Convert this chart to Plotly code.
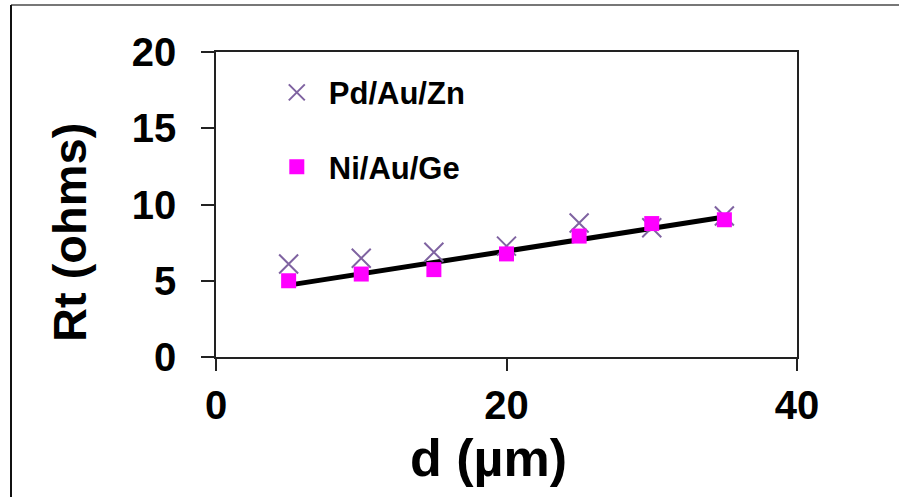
import numpy as np
import plotly.graph_objects as go

d_um = [5, 10, 15, 20, 25, 30, 35]
rt_pd_au_zn = [6.1, 6.48, 6.87, 7.27, 8.79, 8.48, 9.25]
rt_ni_au_ge = [5.0, 5.44, 5.73, 6.76, 7.93, 8.75, 9.0]
x_ticks = [0, 20, 40]
y_ticks = [0, 5, 10, 15, 20]

# linear trendline of Ni/Au/Ge
slope, icpt = np.polyfit(d_um, rt_ni_au_ge, 1)
fit_x = [min(d_um), max(d_um)]
fit_y = [slope * v + icpt for v in fit_x]

FONT = "Liberation Sans, Arial, sans-serif"

fig = go.Figure()
fig.add_trace(go.Scatter(
    x=fit_x, y=fit_y, mode="lines", line=dict(color="black", width=5),
    showlegend=False, hoverinfo="skip"))
fig.add_trace(go.Scatter(
    x=d_um, y=rt_pd_au_zn, mode="markers", name="<b>Pd/Au/Zn</b>",
    legendgroup="a",
    marker=dict(symbol="x-thin", size=19, line=dict(color="#7F63A1", width=2),
                color="#7F63A1")))
fig.add_trace(go.Scatter(
    x=d_um, y=rt_ni_au_ge, mode="markers", name="<b>Ni/Au/Ge</b>",
    legendgroup="b",
    marker=dict(symbol="square", size=15, color="#FF00FF",
                line=dict(width=0))))

axis_common = dict(
    showgrid=False, zeroline=False, showline=True, linecolor="#222",
    linewidth=1.5, mirror=True, ticks="outside", tickcolor="#222",
    tickwidth=1.5,
    tickfont=dict(family=FONT, size=40, color="black", weight="bold"),
)
fig.update_xaxes(range=[0, 40], tickvals=x_ticks, ticklen=12,
                 ticklabelstandoff=0, **axis_common)
fig.update_yaxes(range=[0, 20], tickvals=y_ticks, ticklen=13,
                 ticklabelstandoff=17, **axis_common)

fig.update_layout(
    width=899, height=497,
    margin=dict(l=216, r=102, t=52, b=140),
    paper_bgcolor="white", plot_bgcolor="white",
    font=dict(family=FONT, color="black"),
    legend=dict(x=0.084, y=0.955, xanchor="left", yanchor="top",
                font=dict(family=FONT, size=31, color="black"),
                bgcolor="rgba(0,0,0,0)", tracegroupgap=31, itemwidth=54),
    annotations=[
        dict(text="<b>d (µm)</b>", xref="paper", yref="paper",
             x=(488 - 216) / 581, y=-(489 - 357) / 305, xanchor="center",
             yanchor="bottom", showarrow=False,
             font=dict(family=FONT, size=52, color="black")),
        dict(text="<b>Rt (ohms)</b>", xref="paper", yref="paper",
             x=-(216 - 70) / 581, y=(357 - 233) / 305, xanchor="center",
             yanchor="middle", textangle=-90, showarrow=False,
             font=dict(family=FONT, size=47, color="black")),
    ],
    shapes=[
        dict(type="line", xref="paper", yref="paper",
             x0=-(216 - 11) / 581, x1=(899 - 216) / 581,
             y0=(357 - 5) / 305, y1=(357 - 5) / 305,
             line=dict(color="#777", width=2)),
        dict(type="line", xref="paper", yref="paper",
             x0=-(216 - 11) / 581, x1=-(216 - 11) / 581,
             y0=(357 - 5) / 305, y1=-(497 - 357) / 305 - 0.01,
             line=dict(color="#111", width=2)),
    ],
)

fig.write_html("out.html",
               config={"displayModeBar": False},
               post_script="document.body.style.margin='0';"
                           "document.body.style.overflow='hidden';")
